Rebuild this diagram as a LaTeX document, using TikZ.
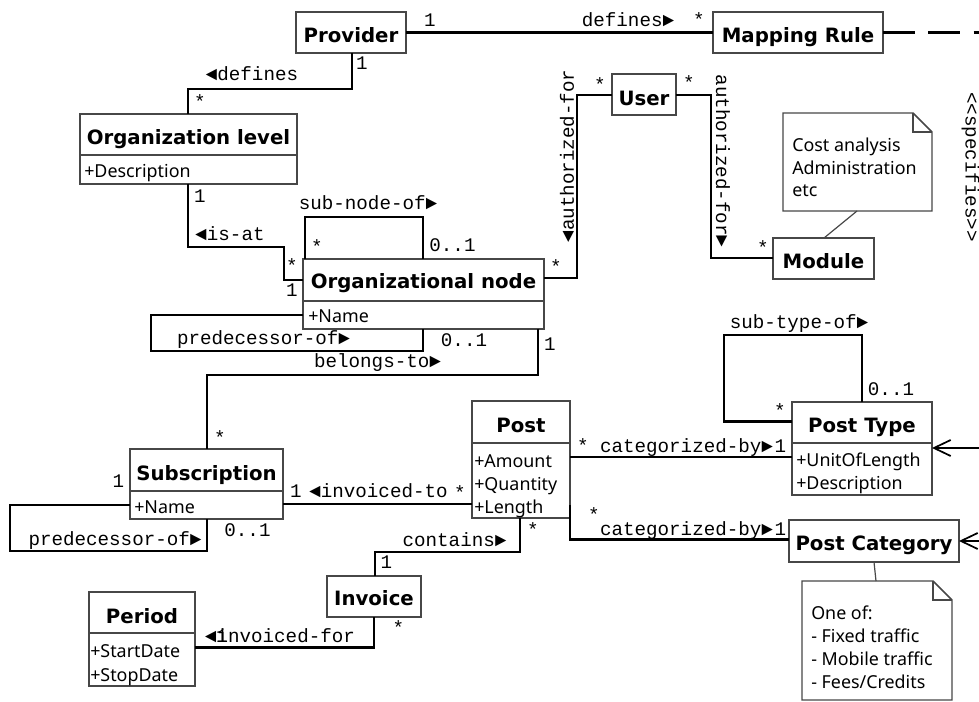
\documentclass[tikz,border=0pt]{standalone}
\usepackage{fontspec}
\setmainfont{Noto Sans}
\newfontfamily\titlefont{DejaVu Sans}
\newfontfamily\monofont{Liberation Mono}
\usetikzlibrary{arrows.meta,calc}

\def\u{0.75pt}

\tikzset{
  cls/.style={draw=black!72, line width=1.1pt, fill=white, inner sep=0pt, outer sep=0pt},
  divider/.style={draw=black!72, line width=1.1pt},
  ttl/.style={anchor=base, inner sep=0pt, font=\titlefont\bfseries\fontsize{14.8}{17}\selectfont},
  attr/.style={anchor=base west, inner sep=0pt, font=\fontsize{13.4}{16}\selectfont},
  lbl/.style={anchor=base, inner sep=0pt, font=\monofont\fontsize{14.4}{17}\selectfont},
  vlbl/.style={lbl, anchor=center},
  assoc/.style={draw=black, line width=2pt},
  dep/.style={draw=black, line width=1.6pt},
  notebox/.style={draw=black!72, line width=1.1pt, fill=white},
  noteline/.style={draw=black!72, line width=0.9pt},
  note/.style={inner sep=0pt, outer sep=0pt},
}

\begin{document}
\begin{tikzpicture}[x=0.75pt, y=-0.75pt]
\useasboundingbox (0,0) rectangle (979,702);

% ---------- classes ----------
\node[cls, minimum width=110*\u, minimum height=41*\u] (prov)     at (351,32.5)   {};
\node[cls, minimum width=170*\u, minimum height=41*\u] (map)      at (798,32.5)   {};
\node[cls, minimum width=217*\u, minimum height=70*\u] (orglev)   at (188.5,149)  {};
\node[cls, minimum width=64*\u,  minimum height=41*\u] (user)     at (644,94.5)   {};
\node[cls, minimum width=101*\u, minimum height=41*\u] (module)   at (823.5,258.5){};
\node[cls, minimum width=241*\u, minimum height=70*\u] (orgnode)  at (423.5,294)  {};
\node[cls, minimum width=140*\u, minimum height=93*\u] (posttype) at (862,448.5)  {};
\node[cls, minimum width=170*\u, minimum height=42*\u] (postcat)  at (874,541)    {};
\node[cls, minimum width=98*\u,  minimum height=117*\u](post)     at (521,459.5)  {};
\node[cls, minimum width=153*\u, minimum height=70*\u] (subs)     at (206.5,484)  {};
\node[cls, minimum width=94*\u,  minimum height=41*\u] (invoice)  at (374,596.5)  {};
\node[cls, minimum width=106*\u, minimum height=94*\u] (period)   at (142,639)    {};

% compartment dividers
\draw[divider] (orglev.west |- 0,155)   -- (orglev.east |- 0,155);
\draw[divider] (orgnode.west |- 0,301)  -- (orgnode.east |- 0,301);
\draw[divider] (posttype.west |- 0,443) -- (posttype.east |- 0,443);
\draw[divider] (post.west |- 0,443)     -- (post.east |- 0,443);
\draw[divider] (subs.west |- 0,491)     -- (subs.east |- 0,491);
\draw[divider] (period.west |- 0,633)   -- (period.east |- 0,633);

% class names
\node[ttl] (provT)     at (351,43)    {Provider};
\node[ttl] (mapT)      at (798,43)    {Mapping Rule};
\node[ttl] (orglevT)   at (188.5,145) {Organization level};
\node[ttl] (userT)     at (644,106)   {User};
\node[ttl] (moduleT)   at (823.5,269) {Module};
\node[ttl] (orgnodeT)  at (423.5,289) {Organizational node};
\node[ttl] (subsT)     at (206.5,480) {Subscription};
\node[ttl] (postT)     at (521,433)   {Post};
\node[ttl] (posttypeT) at (862,433)   {Post Type};
\node[ttl] (postcatT)  at (874,550)   {Post Category};
\node[ttl] (invoiceT)  at (374,605)   {Invoice};
\node[ttl] (periodT)   at (142,623)   {Period};

% attributes
\node[attr] (orglevA)  at (84,178)  {+Description};
\node[attr] (orgnodeA) at (308,323) {+Name};
\node[attr] (subsA)    at (134,513) {+Name};
\node[attr] (postA1)   at (474,467) {+Amount};
\node[attr] (postA2)   at (474,490) {+Quantity};
\node[attr] (postA3)   at (474,513) {+Length};
\node[attr] (ptA1)     at (796,466) {+UnitOfLength};
\node[attr] (ptA2)     at (796,489) {+Description};
\node[attr] (periodA1) at (90,657)  {+StartDate};
\node[attr] (periodA2) at (90,681)  {+StopDate};

% ---------- notes ----------
\node[note, minimum width=149*\u, minimum height=98*\u]  (note1) at (857.5,162)  {};
\node[note, minimum width=150*\u, minimum height=119*\u] (note2) at (877,640.5)  {};
\foreach \n in {note1,note2}{
  \draw[notebox] (\n.south west) -- (\n.south east) -- ($(\n.north east)+(0,19)$)
    -- ($(\n.north east)+(-19,0)$) -- (\n.north west) -- cycle;
  \draw[notebox, fill=none] ($(\n.north east)+(-19,0)$) -- ($(\n.north east)+(-19,19)$)
    -- ($(\n.north east)+(0,19)$);
}
\node[attr] (n1a) at (792,152) {Cost analysis};
\node[attr] (n1b) at (792,175) {Administration};
\node[attr] (n1c) at (792,197) {etc};
\node[attr] (n2a) at (811,619) {One of:};
\node[attr] (n2b) at (811,642) {- Fixed traffic};
\node[attr] (n2c) at (811,665) {- Mobile traffic};
\node[attr] (n2d) at (811,688) {- Fees/Credits};
\draw[noteline] (note1.south -| 857,0) -- (module.north -| 824,0);
\draw[noteline] (note2.north -| 876,0) -- (postcat.south -| 874,0);

% ---------- associations ----------
\draw[assoc] (prov.east) -- (map.west);
\draw[assoc] (prov.south -| 352,0) -- (352,89) -- (188,89) -- (orglev.north -| 188,0);
\draw[assoc] (orglev.south -| 188,0) -- (188,247) -- (284,247) -- (284,280) -- (orgnode.west |- 0,280);
\draw[assoc] (orgnode.north -| 305,0) -- (305,217) -- (423,217) -- (orgnode.north -| 423,0);
\draw[assoc] (orgnode.east |- 0,278) -- (577,278) -- (577,95) -- (user.west |- 0,95);
\draw[assoc] (user.east |- 0,95) -- (711,95) -- (711,258) -- (module.west |- 0,258);
\draw[assoc] (orgnode.west |- 0,315) -- (151,315) -- (151,351) -- (423,351) -- (orgnode.south -| 423,0);
\draw[assoc] (orgnode.south -| 538,0) -- (538,375) -- (207,375) -- (subs.north -| 207,0);
\draw[assoc] (subs.west |- 0,505) -- (10,505) -- (10,551) -- (207,551) -- (subs.south -| 207,0);
\draw[assoc] (subs.east |- 0,504) -- (post.west |- 0,504);
\draw[assoc] (post.south -| 520,0) -- (520,552) -- (375,552) -- (invoice.north -| 375,0);
\draw[assoc] (invoice.south -| 374,0) -- (374,647.5) -- (period.east |- 0,647.5);
\draw[assoc] (post.east |- 0,457) -- (posttype.west |- 0,457);
\draw[assoc] (post.east |- 0,505) -- (570,539.5) -- (postcat.west |- 0,539.5);
\draw[assoc] (posttype.west |- 0,421.5) -- (724,421.5) -- (724,335) -- (862,335) -- (posttype.north -| 862,0);

% dependency towards the right
\coordinate (specEnd) at (979,32.5);
\coordinate (ptIn) at (979,448);
\coordinate (pcIn) at (979,541);
\draw[assoc, dash pattern=on 24pt off 10pt] (map.east) -- (specEnd);
\draw[dep, -{Straight Barb[length=12.5pt, width=12pt, line width=1.3pt]}] (ptIn) -- (posttype.east |- ptIn);
\draw[dep, -{Straight Barb[length=12.5pt, width=12pt, line width=1.3pt]}] (pcIn) -- (postcat.east |- pcIn);
\node[vlbl, rotate=-90] (m46) at (970.5,167) {<<specifies>>};

% ---------- association labels ----------
\node[lbl] (m1)  at (430,27)    {1};
\node[lbl] (m2)  at (628,27)    {defines►};
\node[lbl] (m3)  at (699,27)    {*};
\node[lbl] (m4)  at (362,70)    {1};
\node[lbl] (m5)  at (252,81)    {◄defines};
\node[lbl] (m6)  at (200,109)   {*};
\node[lbl] (m7)  at (200,203)   {1};
\node[lbl] (m8)  at (230,241)   {◄is-at};
\node[lbl] (m9)  at (292,273)   {*};
\node[lbl] (m10) at (292,297)   {1};
\node[lbl] (m11) at (368,210)   {sub-node-of►};
\node[lbl] (m12) at (317,254)   {*};
\node[lbl] (m13) at (452.5,252) {0..1};
\node[lbl] (m14) at (556,274)   {*};
\node[lbl] (m15) at (600,92)    {*};
\node[vlbl, rotate=90]  (m16) at (567,156) {◄authorized-for};
\node[lbl] (m17) at (689,90)    {*};
\node[vlbl, rotate=-90] (m18) at (723,161) {authorized-for►};
\node[lbl] (m19) at (763,255)   {*};
\node[lbl] (m20) at (263.5,345) {predecessor-of►};
\node[lbl] (m21) at (464,347)   {0..1};
\node[lbl] (m22) at (550,351)   {1};
\node[lbl] (m23) at (377.5,368) {belongs-to►};
\node[lbl] (m24) at (220,445)   {*};
\node[lbl] (m25) at (118.5,488) {1};
\node[lbl] (m26) at (296,498)   {1};
\node[lbl] (m27) at (378.5,498) {◄invoiced-to};
\node[lbl] (m28) at (460,499)   {*};
\node[lbl] (m29) at (115,545)   {predecessor-of►};
\node[lbl] (m30) at (247.5,537) {0..1};
\node[lbl] (m31) at (454.5,546) {contains►};
\node[lbl] (m32) at (533,537)   {*};
\node[lbl] (m33) at (386.5,568) {1};
\node[lbl] (m34) at (398.5,634) {*};
\node[lbl] (m35) at (280,642)   {◄invoiced-for};
\node[lbl] (m36) at (222,642)   {1};
\node[lbl] (m37) at (583,453)   {*};
\node[lbl] (m38) at (686.5,452) {categorized-by►};
\node[lbl] (m39) at (780.5,452) {1};
\node[lbl] (m40) at (594,522)   {*};
\node[lbl] (m41) at (686.5,535) {categorized-by►};
\node[lbl] (m42) at (780.5,535) {1};
\node[lbl] (m43) at (799,329)   {sub-type-of►};
\node[lbl] (m44) at (891,396)   {0..1};
\node[lbl] (m45) at (780,417)   {*};
\end{tikzpicture}
\end{document}
